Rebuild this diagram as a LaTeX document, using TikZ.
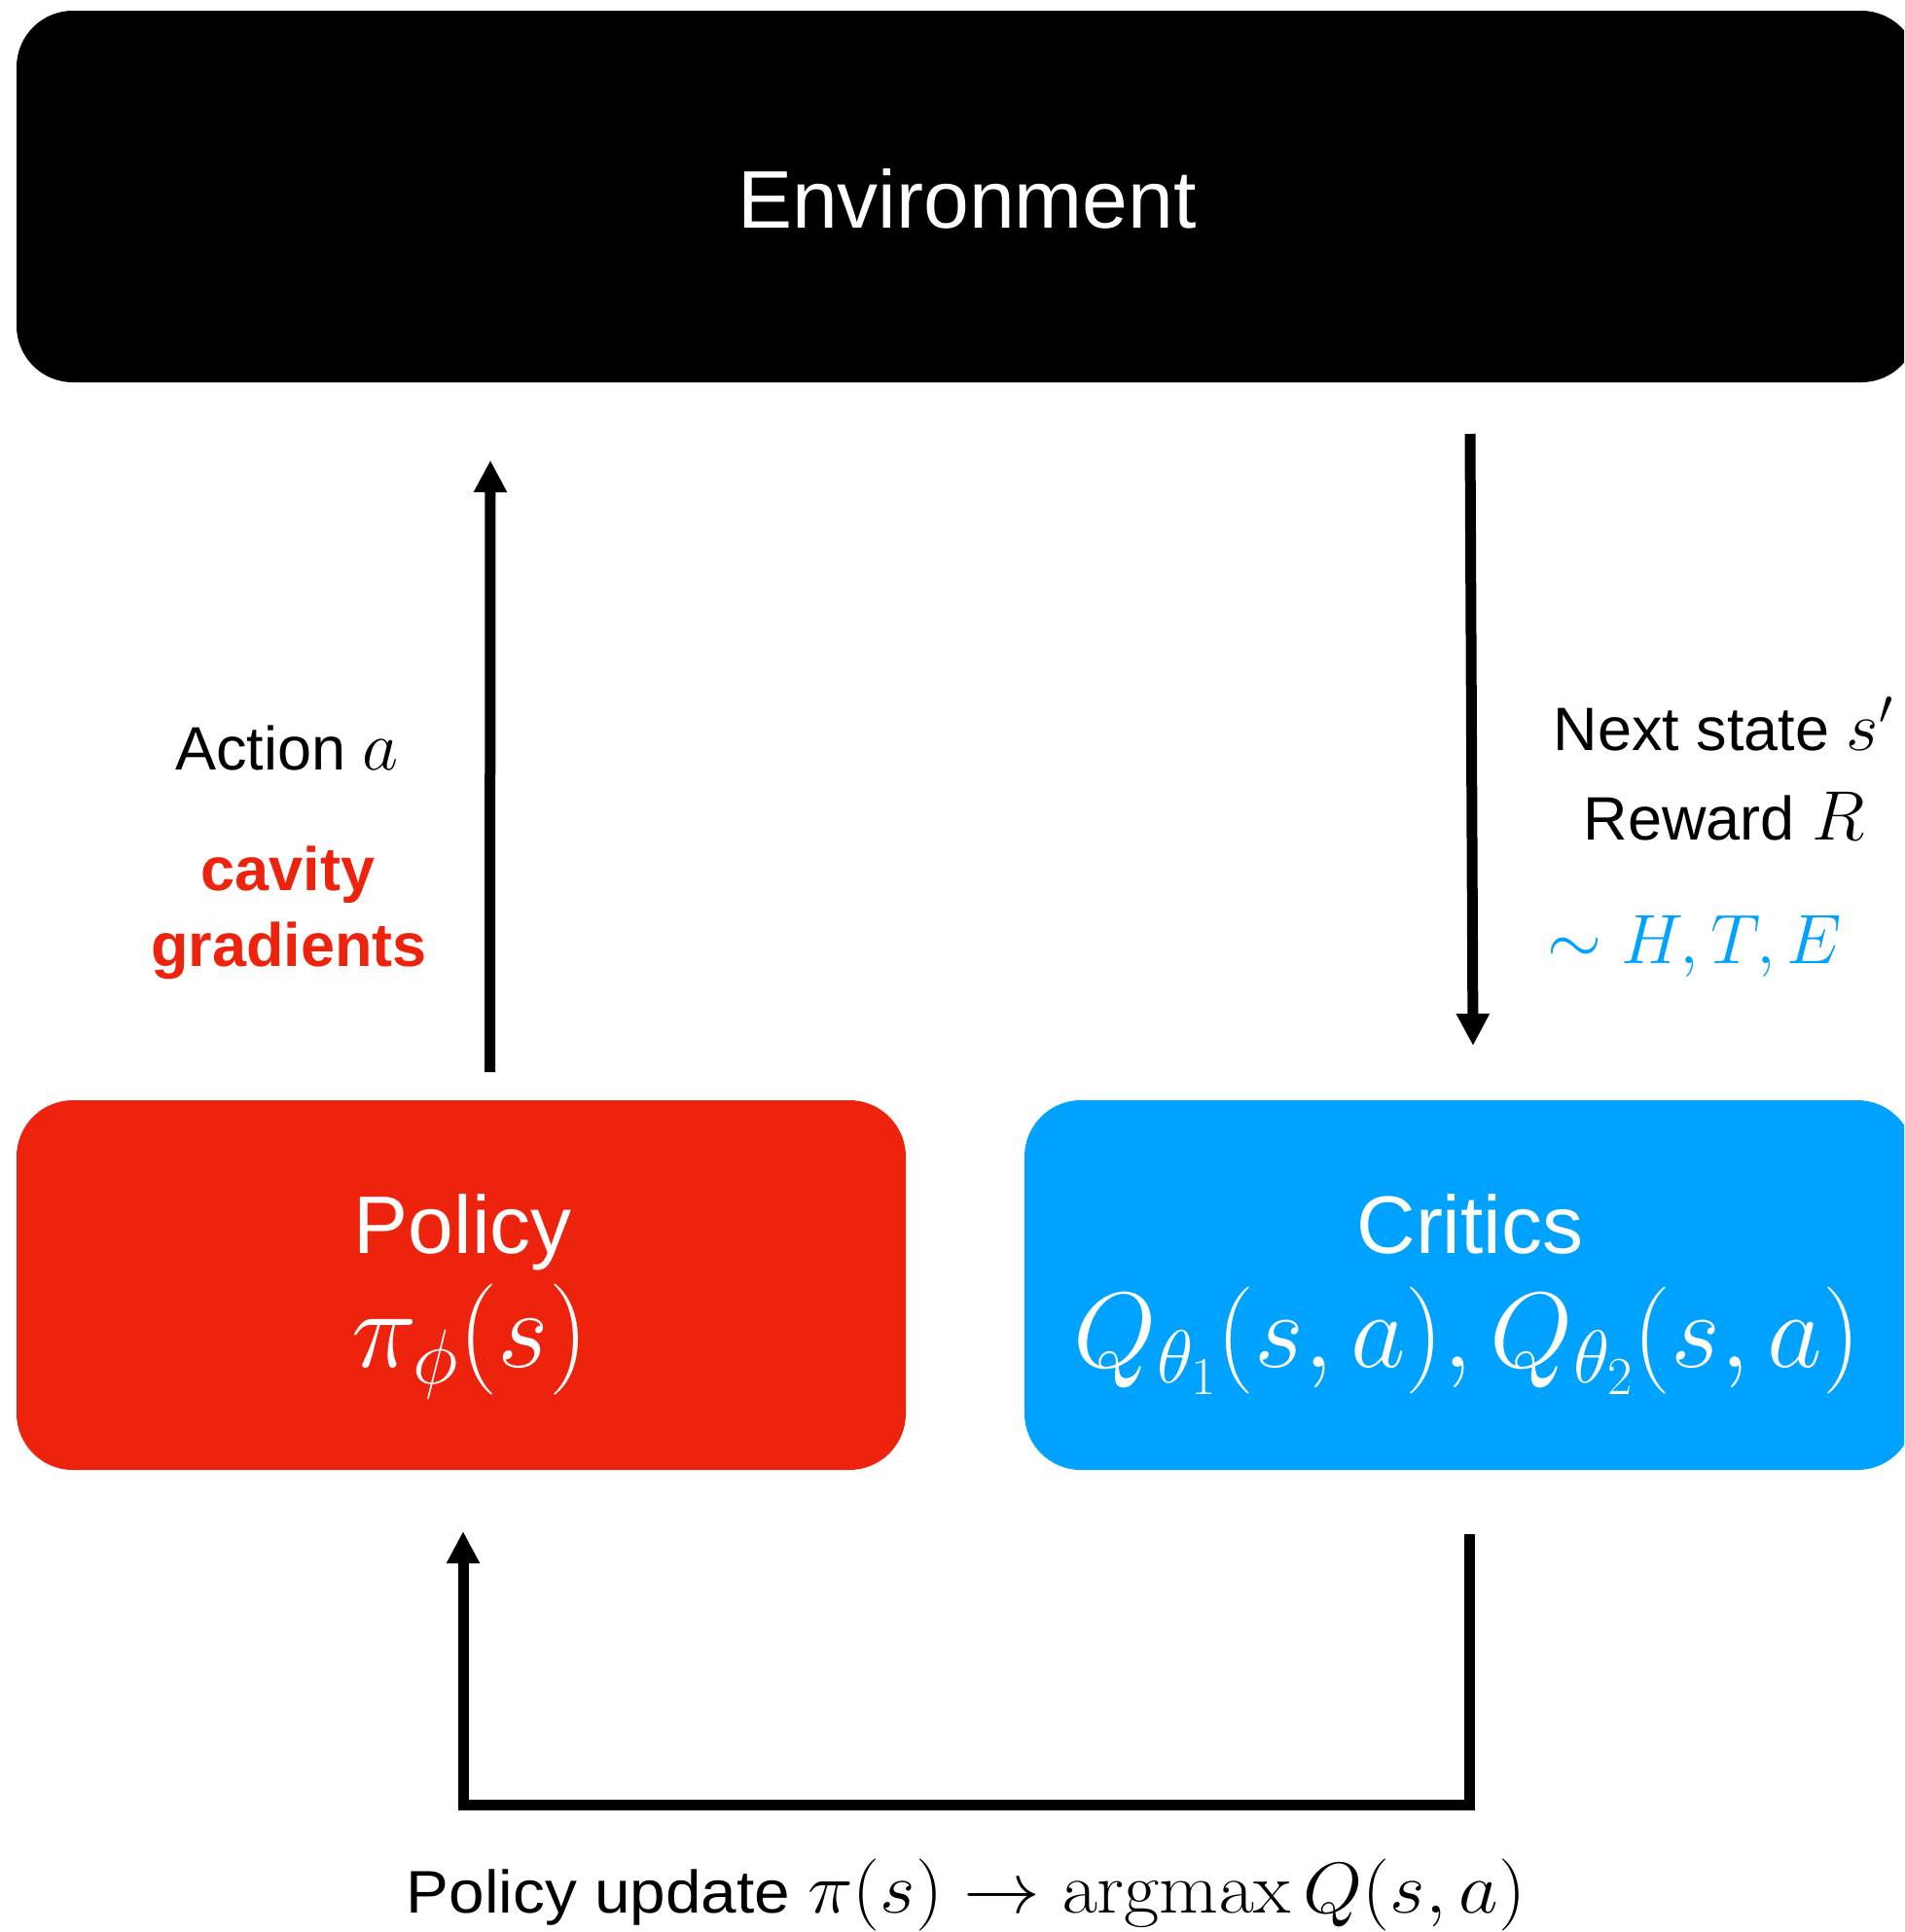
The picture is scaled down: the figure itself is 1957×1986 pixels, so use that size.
\RequirePackage{fix-cm}
\documentclass[tikz,border=0pt]{standalone}
\usepackage[no-math]{fontspec}
\setmainfont{Liberation Sans}
\usetikzlibrary{arrows.meta}
\definecolor{polred}{RGB}{238,35,14}
\definecolor{critblue}{RGB}{0,162,255}
\newcommand{\fsz}[1]{\fontsize{#1}{#1}\selectfont}
\newcommand{\mth}[1]{{\fsz{72}$#1$}}
\begin{document}
\begin{tikzpicture}[x=1pt,y=-1pt,
  boxstyle/.style={rounded corners=58pt, inner sep=0pt, minimum height=380pt},
  title/.style={anchor=base, text=white, font=\fsz{84}, inner sep=0pt},
  lbl/.style={anchor=base, font=\fsz{63}, inner sep=0pt},
  conn/.style={line width=11pt, line join=miter, -{Triangle[length=33pt,width=32pt]}}]
\useasboundingbox (0,0) rectangle (1957,1986);
\clip (0,0) rectangle (1957,1986);
% boxes
\node[boxstyle, fill=black, minimum width=1954pt, minimum height=382pt] (env) at (994,202) {};
\node[title, anchor=base] (envt) at (994,234) {Environment};
\node[boxstyle, fill=polred, minimum width=914pt] (policy) at (474,1321) {};
\node[title] (policyt) at (476,1288) {Policy};
\node[title] (policym) at (483,1405) {\fsz{114}$\pi_\phi(s)$};
\node[boxstyle, fill=critblue, minimum width=914pt] (critic) at (1510,1321) {};
\node[title] (critict) at (1511,1288) {Critics};
\node[title] (criticm) at (1508,1405) {\fsz{110}$Q_{\theta_1}(s,a),Q_{\theta_2}(s,a)$};
% labels
\node[lbl] (act) at (295,791) {Action \mth{a}};
\node[lbl, text=polred, font=\fsz{63}\bfseries] (cav) at (296,915) {cavity};
\node[lbl, text=polred, font=\fsz{63}\bfseries] (grad) at (297,993) {gradients};
\node[lbl] (nxt) at (1771,771) {Next state \mth{s'}};
\node[lbl] (rew) at (1772,863) {Reward \mth{R}};
\node[lbl, text=critblue] (hte) at (1742,990) {\mth{\sim H,T,E}};
\node[anchor=south, inner sep=0pt] (upd) at (993,1985)
  {\resizebox*{1150pt}{74pt}{\fsz{60}Policy update {\fsz{72}$\pi(s)\rightarrow \mathrm{argmax}\,Q(s,a)$}}};
% connectors
\coordinate (a1) at (503.5,1102);
\coordinate (a2) at (504,473);
\draw[conn] (a1) -- (a2);
\coordinate (b1) at (1511,446);
\coordinate (b2) at (1514,1075);
\draw[conn] (b1) -- (b2);
\coordinate (c1) at (1510,1577);
\coordinate (c2) at (476,1574);
\draw[conn] (c1) -- (1510,1855.5) -- (476,1855.5) -- (c2);
\end{tikzpicture}
\end{document}
